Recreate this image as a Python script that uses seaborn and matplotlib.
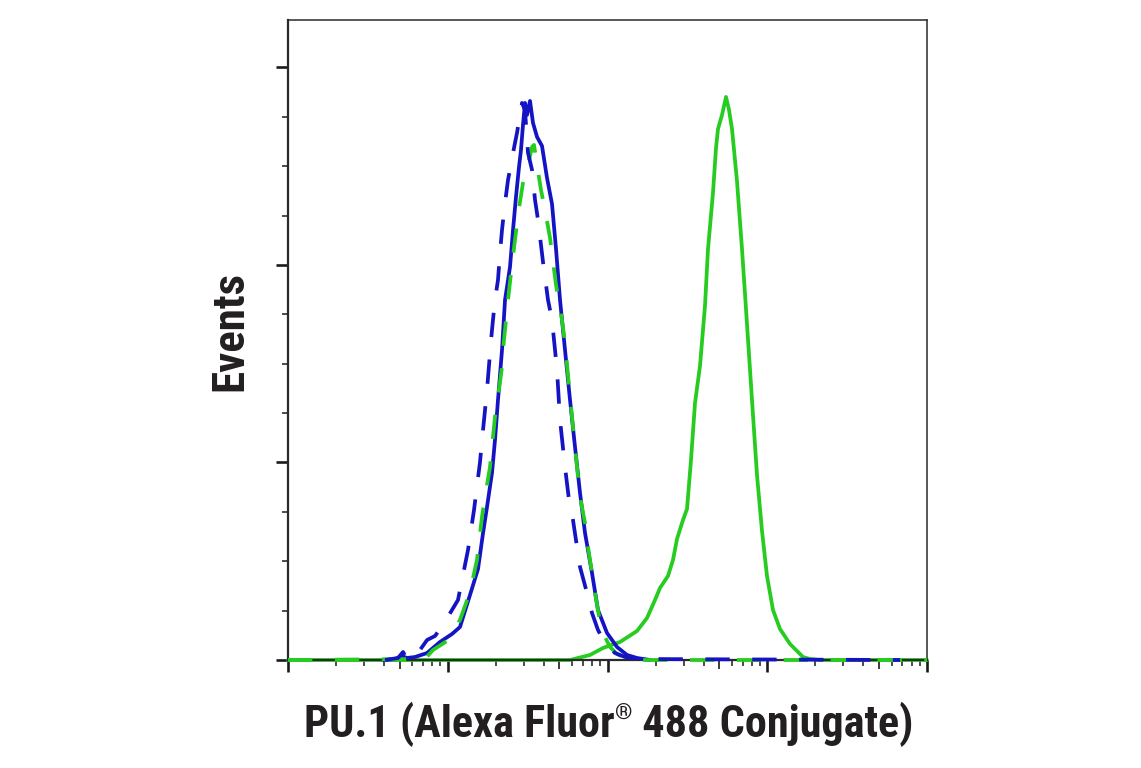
import matplotlib
matplotlib.use("Agg")
import numpy as np
import pandas as pd
import seaborn as sns
import matplotlib.pyplot as plt
import matplotlib.font_manager as fm
from matplotlib.ticker import (LogLocator, NullFormatter, NullLocator,
                               MultipleLocator)

# ---------------- data (fluorescence intensity vs. events) ----------------
# Negative cells (blue), PU.1 antibody (solid)
neg_pu1_x = [39.3, 46.8, 51.7, 55.6, 62.4, 74.2, 89.4, 106.3, 119.3, 137.8,
             154.7, 166.3, 176.1, 189.2, 197.6, 206.3, 218.6, 228.3, 245.3, 256.2,
             267.4, 279.3, 287.4, 295.8, 304.4, 313.4, 327.3, 341.7, 362.1, 389.0,
             418.1, 449.4, 476.1, 504.4, 542.0, 582.6, 626.1, 672.9, 723.1, 799.8,
             871.9, 992.9, 1147, 1325, 1530, 1845]
neg_pu1_y = [0, 0.25, 1.01, 0.51, 0.76, 1.77, 4.56, 6.58, 8.35, 16.46,
             23.04, 32.15, 38.73, 47.34, 55.70, 65.82, 78.48, 91.14, 99.49, 108.86,
             117.22, 124.81, 129.11, 135.44, 141.01, 137.97, 141.52, 135.95, 132.41, 130.13,
             122.03, 115.44, 104.05, 91.14, 78.48, 65.82, 53.92, 42.28, 32.15, 22.03,
             12.66, 6.84, 3.29, 1.27, 0.51, 0]

# Negative cells (blue), isotype control (dashed)
neg_iso_x = [40.5, 48.8, 52.5, 55.6, 62.4, 67.0, 74.2, 83.2, 93.4, 115.9,
             133.9, 146.0, 159.2, 166.3, 176.1, 183.9, 189.2, 197.6, 206.3, 212.4,
             218.6, 228.3, 238.4, 256.2, 271.3, 283.3, 291.5, 304.4, 318.0, 336.9,
             351.8, 367.3, 394.7, 424.2, 449.4, 483.0, 504.4, 542.0, 574.1, 608.1,
             644.4, 672.9, 744.3, 799.8, 871.9, 978.6, 1114, 1287, 1597, 67760]
neg_iso_y = [0, 0.51, 2.03, 0.25, 0.76, 2.53, 5.06, 6.08, 8.86, 15.19,
             27.85, 37.97, 50.13, 58.23, 68.35, 77.72, 83.54, 91.14, 96.20, 103.04,
             108.86, 115.70, 121.52, 128.35, 133.42, 137.97, 141.01, 139.24, 128.35, 124.05,
             116.46, 111.39, 100.76, 91.14, 86.08, 73.42, 60.76, 48.86, 40.51, 35.44,
             28.61, 23.54, 16.96, 11.90, 7.59, 3.80, 1.77, 0.76, 0.25, 0]

# Positive cells (green), isotype control (dashed)
pos_iso_x = [10.0, 72.0, 80.8, 98.9, 119.3, 137.8, 152.4, 163.8, 171.1, 183.9,
             189.2, 197.6, 206.3, 218.6, 221.7, 238.4, 252.5, 263.6, 279.3, 295.8,
             318.0, 336.9, 346.7, 362.1, 383.4, 406.2, 436.6, 476.1, 519.0, 542.0,
             582.6, 626.1, 672.9, 723.1, 755.0, 799.8, 835.1, 897.7, 964.7, 1036.6,
             1147, 1287, 1597, 100000]
pos_iso_y = [0, 0.25, 2.53, 4.81, 10.13, 17.22, 25.32, 36.20, 41.27, 48.86,
             53.92, 61.52, 66.58, 74.18, 78.48, 91.14, 100.25, 106.33, 114.43, 120.76,
             125.32, 129.87, 130.38, 125.32, 118.99, 113.92, 106.84, 94.94, 86.08, 80.25,
             66.58, 53.92, 41.27, 34.68, 28.61, 22.03, 16.96, 9.62, 5.82, 3.29,
             1.52, 0.51, 0, 0]

# Positive cells (green), PU.1 antibody (solid)
pos_pu1_x = [10.0, 582.6, 653.6, 777.1, 937.1, 1198, 1530, 1767, 1983, 2131,
             2391, 2570, 2723, 2969, 3146, 3332, 3530, 3793, 4076, 4257,
             4574, 4778, 4918, 5210, 5519, 5763, 6016, 6464, 6948, 7468,
             8026, 8625, 9271, 9963, 10863, 12016, 13882, 16742, 18517, 21390,
             100000]
pos_pu1_y = [0, 0, 0.51, 1.27, 3.04, 4.56, 7.34, 10.63, 15.19, 18.23,
             21.27, 25.32, 30.63, 35.44, 38.23, 50.63, 65.06, 74.43, 89.62, 104.05,
             118.23, 129.62, 134.43, 137.97, 142.53, 139.24, 134.43, 121.27, 104.05, 85.06,
             65.82, 46.84, 32.66, 21.27, 12.66, 7.85, 4.05, 0.76, 0.25, 0,
             0]

x_label_parts = ["PU.1 (Alexa Fluor", "®", " 488 Conjugate)"]
y_label = "Events"

BLUE = "#1414c4"
GREEN = "#26cc20"
TEXT = "#231f20"

# ---------------- styling ----------------
sns.set_theme(style="ticks")
names = {f.name for f in fm.fontManager.ttflist}
label_font = "DejaVu Sans"
stretch = "normal"
for cand in ["Roboto Condensed", "Liberation Sans Narrow", "Open Sans Condensed"]:
    if cand in names:
        label_font = cand
        break
else:
    stretch = "condensed"
plt.rcParams["font.family"] = [label_font, "DejaVu Sans"]

W, H = 1141, 768
fig = plt.figure(figsize=(W / 100, H / 100), dpi=100)
fig.patch.set_facecolor("white")
ax = fig.add_axes([288 / W, 1 - 660 / H, 639 / W, 640 / H])
ax.set_facecolor("white")
ax.set_xscale("log")

series = [
    (pos_pu1_x, pos_pu1_y, GREEN, False, 2),
    (neg_pu1_x, neg_pu1_y, BLUE, False, 3),
    (pos_iso_x, pos_iso_y, GREEN, True, 4),
    (neg_iso_x, neg_iso_y, BLUE, True, 5),
]
for xs, ys, col, dashed, z in series:
    df = pd.DataFrame({"intensity": xs, "events": ys})
    sns.lineplot(data=df, x="intensity", y="events", ax=ax, color=col,
                 estimator=None, sort=False, legend=False)
    ln = ax.lines[-1]
    ln.set_linewidth(2.7)
    if dashed:
        ln.set_dashes((6.5, 6.0))
    ln.set_solid_joinstyle("round")
    ln.set_zorder(z)
    ln.set_clip_on(False)

ax.set_xlim(10, 1e5)
ax.set_ylim(0, 162.0)
ax.set_xlabel("")
ax.set_ylabel("")

# ticks
ax.xaxis.set_major_locator(LogLocator(base=10, numticks=10))
ax.xaxis.set_minor_locator(LogLocator(base=10, subs=(2, 3, 4, 6, 7, 8, 9), numticks=40))
ax.xaxis.set_major_formatter(NullFormatter())
ax.xaxis.set_minor_formatter(NullFormatter())
ax.yaxis.set_major_locator(MultipleLocator(50))
ax.yaxis.set_minor_locator(MultipleLocator(12.5))
ax.yaxis.set_major_formatter(NullFormatter())
ax.yaxis.set_minor_formatter(NullFormatter())
ax.tick_params(which="major", direction="out", length=8.6, width=1.9,
               color="#1a1a1a", bottom=True, left=True, top=False, right=False)
ax.tick_params(which="minor", direction="out", length=4.3, width=1.1,
               color="#1a1a1a", bottom=True, left=True, top=False, right=False)

# mid-decade (5x) ticks slightly longer
sec = ax.secondary_xaxis("bottom")
sec.xaxis.set_major_locator(LogLocator(base=10, subs=(5,), numticks=10))
sec.xaxis.set_minor_locator(NullLocator())
sec.xaxis.set_major_formatter(NullFormatter())
sec.tick_params(which="major", direction="out", length=6.8, width=1.2, color="#1a1a1a")
sec.spines["bottom"].set_visible(False)

for side in ["left", "bottom"]:
    ax.spines[side].set_linewidth(1.6)
for side in ["top", "right"]:
    ax.spines[side].set_linewidth(1.1)
for sp in ax.spines.values():
    sp.set_color("#2a2a2a")
    sp.set_visible(True)

# ---------------- labels ----------------
fs = 31.0
fig.canvas.draw()
r = fig.canvas.get_renderer()

def make_xlabel(size):
    kw = dict(fontweight="bold", color=TEXT, fontstretch=stretch, va="baseline")
    t1 = fig.text(0, 0, x_label_parts[0], fontsize=size, ha="left", **kw)
    t2 = fig.text(0, 0, x_label_parts[1], fontsize=size * 0.5, ha="left", **kw)
    t3 = fig.text(0, 0, x_label_parts[2], fontsize=size, ha="left", **kw)
    w1 = t1.get_window_extent(r).width
    w2 = t2.get_window_extent(r).width
    w3 = t3.get_window_extent(r).width
    return (t1, t2, t3), (w1, w2, w3)

texts, widths = make_xlabel(fs)
total = sum(widths)
for t in texts:
    t.remove()
fs = fs * 609 / total
texts, widths = make_xlabel(fs)
total = sum(widths)
left_px = 609 - total / 2
base_px = 737
cap_px = fs * 100 / 72 * 0.71
x_pos = left_px
for i, (t, w) in enumerate(zip(texts, widths)):
    yb = base_px if i != 1 else base_px - cap_px * 0.55
    t.set_position((x_pos / W, 1 - yb / H))
    x_pos += w

yl = fig.text(230 / W, 1 - 331 / H, y_label, ha="center", va="center",
              rotation=90, fontsize=31, fontweight="bold", color=TEXT,
              fontstretch=stretch)
by = yl.get_window_extent(r)
yl.set_fontsize(31 * 120 / by.height)

fig.savefig("out.png", dpi=100, facecolor="white")
